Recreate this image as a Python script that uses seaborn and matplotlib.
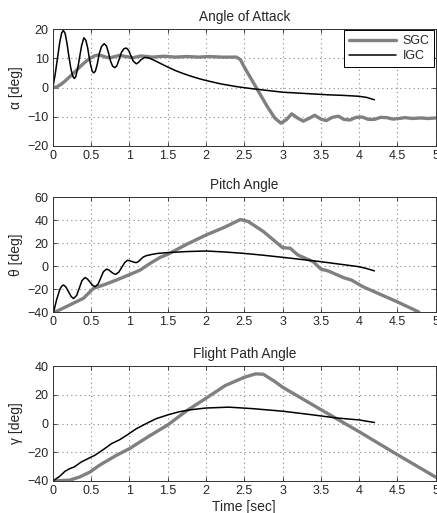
import pandas as pd
import matplotlib
matplotlib.use("Agg")
import matplotlib.pyplot as plt
import seaborn as sns

# Angle of attack [deg]
alpha_sgc_t = [0, 0.05, 0.1, 0.15, 0.2, 0.25, 0.3, 0.35, 0.4, 0.45, 0.5, 0.55, 0.6, 0.65, 0.7,
               0.75, 0.8, 0.87, 0.95, 1.05, 1.15, 1.3, 1.45, 1.6, 1.75, 1.9, 2.05, 2.2, 2.4,
               2.45, 2.5, 2.6, 2.7, 2.8, 2.9, 2.98, 3.05, 3.12, 3.2, 3.27, 3.35, 3.42, 3.5,
               3.57, 3.65, 3.73, 3.8, 3.88, 3.96, 4.04, 4.12, 4.2, 4.28, 4.36, 4.44, 4.52,
               4.6, 4.7, 4.8, 4.9, 5.0]
alpha_sgc = [0, 0.2, 1.0, 2.0, 3.2, 4.4, 5.7, 7.0, 8.2, 9.3, 10.2, 10.9, 11.1, 10.8, 10.3,
             10.2, 10.5, 11.0, 10.6, 10.2, 10.8, 10.4, 10.7, 10.4, 10.6, 10.4, 10.6, 10.4, 10.4,
             9.5, 7, 2.5, -2, -6.5, -10.5, -12.2, -11, -9.0, -10.5, -11.5, -10.5, -9.5, -10.8,
             -11.3, -10.2, -9.8, -10.9, -11.1, -10.2, -10.1, -10.9, -10.9, -10.2, -10.3, -10.8, -10.6,
             -10.3, -10.6, -10.4, -10.6, -10.4]
alpha_igc_t = [0, 0.03, 0.06, 0.09, 0.115, 0.137, 0.16, 0.185, 0.21, 0.235, 0.26, 0.28, 0.30,
               0.325, 0.35, 0.375, 0.405, 0.43, 0.455, 0.47, 0.49, 0.515, 0.535, 0.555, 0.58,
               0.605, 0.635, 0.67, 0.70, 0.725, 0.75, 0.78, 0.81, 0.835, 0.865, 0.895, 0.93,
               0.96, 0.99, 1.02, 1.05, 1.09, 1.12, 1.15, 1.2, 1.25, 1.3, 1.4, 1.5, 1.6, 1.7,
               1.8, 1.9, 2.0, 2.2, 2.4, 2.6, 2.8, 3.0, 3.2, 3.4, 3.6, 3.8, 4.0, 4.1, 4.15, 4.2]
alpha_igc = [0, 4.5, 10, 15.5, 18.7, 19.5, 18.5, 15, 10.5, 6.5, 3.8, 3.1, 3.8,
             6.6, 10.5, 14.3, 17, 16.2, 13.5, 11, 8, 5.5, 5, 5.6, 8,
             11.5, 14, 15, 14.2, 12, 9.3, 7.3, 6.8, 7.4, 9.6, 12, 13.3,
             13.5, 12.7, 10.8, 9, 8.1, 8.6, 9.5, 10.3, 10.1, 9.6, 8.3, 7, 5.8, 4.8,
             3.9, 3.1, 2.4, 1.2, 0.3, -0.4, -1, -1.6, -1.9, -2.2, -2.5, -2.7, -3.0, -3.4, -3.8, -4.2]

# Pitch angle [deg]
theta_sgc_t = [0.03, 0.22, 0.4, 0.53, 0.66, 0.83, 1.0, 1.14, 1.27, 1.4, 1.5, 1.75, 2.0, 2.25,
               2.45, 2.55, 2.75, 3.0, 3.1, 3.2, 3.4, 3.5, 3.6, 3.8, 3.9, 4.05, 4.2, 4.5, 4.78]
theta_sgc = [-40, -33.9, -28, -19.4, -16.5, -12.2, -7.5, -3.5, 2.3, 7.5, 10.2, 19, 27, 34,
             40.5, 38.8, 30, 16, 15.5, 9.6, 3.8, -2.6, -4.4, -10.2, -12.2, -18, -22.4, -31.2, -40]
theta_igc_t = [0.01, 0.05, 0.09, 0.115, 0.14, 0.17, 0.205, 0.24, 0.27, 0.31, 0.345, 0.38,
               0.42, 0.45, 0.485, 0.52, 0.55, 0.59, 0.625, 0.66, 0.70, 0.73, 0.76, 0.79,
               0.82, 0.86, 0.9, 0.94, 0.975, 1.0, 1.03, 1.06, 1.09, 1.12, 1.15, 1.18, 1.22,
               1.3, 1.37, 1.5, 1.75, 2.0, 2.25, 2.5, 2.75, 3.0, 3.25, 3.5, 3.75, 4.0, 4.1, 4.2]
theta_igc = [-40, -29, -20.5, -17.5, -16.5, -18.2, -22.4, -26.6, -28.3, -25.6, -19.2, -12.7,
             -10, -11.2, -14, -16.8, -18, -15.8, -10.4, -4.9, -2.7, -3.4, -5, -6.5,
             -7.2, -5.4, -1.1, 3.2, 5, 4.7, 4, 3.3, 3, 4, 6, 7.8, 9,
             10.2, 11, 11.7, 12.6, 13.1, 12.2, 11, 9.4, 7.6, 5.7, 3.8, 1.6, -0.6, -2.2, -4.2]

# Flight path angle [deg]
gamma_sgc_t = [0, 0.22, 0.35, 0.48, 0.61, 0.83, 1.0, 1.25, 1.5, 1.75, 2.0, 2.25, 2.5, 2.65,
               2.75, 2.9, 3.0, 3.5, 4.0, 4.5, 5.0]
gamma_sgc = [-40, -39.4, -37.2, -33.9, -29, -22.1, -17.5, -9, -1, 9, 17.6, 26.4, 32.2, 34.6,
             34.3, 29.2, 25.3, 9.7, -5.7, -21.7, -37.3]
gamma_igc_t = [0, 0.09, 0.157, 0.22, 0.28, 0.37, 0.46, 0.548, 0.657, 0.766, 0.875, 0.98,
               1.09, 1.22, 1.35, 1.5, 1.65, 1.8, 2.0, 2.3, 2.6, 3.0, 3.4, 3.7, 4.0, 4.2]
gamma_igc = [-40, -36.7, -33.3, -31.4, -30.2, -26.8, -24.4, -22.1, -18.2, -14, -11.2, -7.6,
             -3.6, 0, 3.4, 6, 8.2, 9.6, 10.8, 11.4, 10.4, 8.6, 6, 3.9, 2.5, 0.7]

titles = ["Angle of Attack", "Pitch Angle", "Flight Path Angle"]
ylabels = ["\u03b1 [deg]", "\u03b8 [deg]", "\u03b3 [deg]"]
ylims = [(-20, 20), (-40, 60), (-40, 40)]
yticks = [[-20, -10, 0, 10, 20], [-40, -20, 0, 20, 40, 60], [-40, -20, 0, 20, 40]]
xticks = [0, 0.5, 1, 1.5, 2, 2.5, 3, 3.5, 4, 4.5, 5]
xticklabels = ["0", "0.5", "1", "1.5", "2", "2.5", "3", "3.5", "4", "4.5", "5"]

series = [
    [("SGC", alpha_sgc_t, alpha_sgc), ("IGC", alpha_igc_t, alpha_igc)],
    [("SGC", theta_sgc_t, theta_sgc), ("IGC", theta_igc_t, theta_igc)],
    [("SGC", gamma_sgc_t, gamma_sgc), ("IGC", gamma_igc_t, gamma_igc)],
]

colors = {"SGC": "#808080", "IGC": "black"}
widths = {"SGC": 2.4, "IGC": 1.1}

sns.set_style("ticks", {"xtick.direction": "in", "ytick.direction": "in",
                        "axes.edgecolor": "#333333"})
plt.rcParams["font.family"] = ["Liberation Sans", "DejaVu Sans"]

fig = plt.figure(figsize=(4.37, 5.13), dpi=100)
bottoms = [0.7154, 0.3918, 0.0624]
heights = [0.228, 0.224, 0.224]

for i in range(3):
    ax = fig.add_axes([0.121, bottoms[i], 0.876, heights[i]])
    for name, t, v in series[i]:
        df = pd.DataFrame({"Time": t, "Value": v})
        sns.lineplot(data=df, x="Time", y="Value", ax=ax, color=colors[name],
                     linewidth=widths[name], label=name, sort=False, estimator=None)
    ax.set_xlim(0, 5)
    ax.set_ylim(*ylims[i])
    ax.set_xticks(xticks)
    ax.set_xticklabels(xticklabels)
    ax.set_yticks(yticks[i])
    ax.tick_params(labelsize=9, length=3, width=0.6, top=True, right=True, pad=3)
    ax.grid(True, linestyle=(0, (1, 3)), linewidth=0.8, color="#888888")
    ax.set_axisbelow(True)
    for s in ax.spines.values():
        s.set_linewidth(0.7)
    ax.set_title(titles[i], fontsize=9.8, pad=6)
    ax.set_ylabel(ylabels[i], fontsize=10, labelpad=3)
    if i == 2:
        ax.set_xlabel("Time [sec]", fontsize=10, labelpad=2)
    else:
        ax.set_xlabel("")
    if i == 0:
        leg = ax.legend(loc="upper right", fontsize=9, handlelength=3.8, fancybox=False,
                        framealpha=1, borderaxespad=0.1, borderpad=0.4, labelspacing=0.25,
                        handletextpad=0.5)
        leg.get_frame().set_edgecolor("black")
        leg.get_frame().set_linewidth(0.7)
    else:
        ax.get_legend().remove()

fig.savefig("out.png", dpi=100)
